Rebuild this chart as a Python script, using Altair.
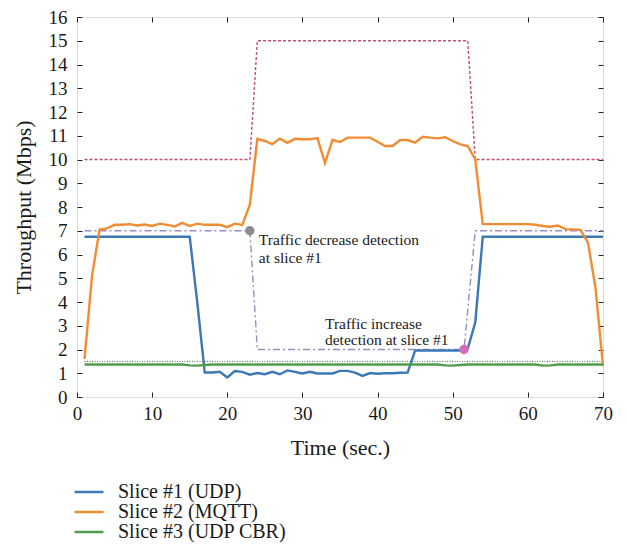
import altair as alt
import pandas as pd

# ---------------- data ----------------
time_s = list(range(1, 71))

slice1_udp = [6.75] * 15 + [4.0] + [
    1.03, 1.03, 1.06, 0.82, 1.09, 1.06, 0.94, 1.01, 0.96, 1.06,
    0.96, 1.12, 1.06, 0.99, 1.06, 0.99, 0.99, 0.99, 1.10, 1.10,
    1.03, 0.89, 1.01, 0.98, 1.00, 1.00, 1.02, 1.03,
] + [1.96] * 7 + [2.03, 3.14] + [6.75] * 17

slice2_mqtt = [
    1.6, 5.1, 7.05, 7.1, 7.25, 7.25, 7.28, 7.22, 7.26, 7.2,
    7.3, 7.25, 7.18, 7.33, 7.2, 7.3, 7.25, 7.25, 7.25, 7.15,
    7.3, 7.25, 8.1, 10.87, 10.78, 10.65, 10.88, 10.7, 10.87, 10.85,
    10.85, 10.9, 9.85, 10.82, 10.74, 10.92, 10.92, 10.92, 10.92, 10.75,
    10.57, 10.57, 10.82, 10.82, 10.71, 10.96, 10.92, 10.89, 10.94, 10.78,
    10.64, 10.57, 10.0, 7.28, 7.28, 7.28, 7.28, 7.28, 7.28, 7.28,
    7.25, 7.2, 7.17, 7.22, 7.07, 7.06, 7.04, 6.5, 4.6, 1.3,
]

slice3_cbr = [1.37] * 14 + [1.33, 1.32, 1.35] + [1.37] * 31 + [1.33, 1.32, 1.35] + [1.37] * 10 + [1.32, 1.33] + [1.37] * 7

series_names = ["Slice #1 (UDP)", "Slice #2 (MQTT)", "Slice #3 (UDP CBR)"]
series_colors = ["#3b78b4", "#f28c33", "#4f9c4a"]

cap_t = [1, 23, 24, 52, 53, 70]
cap_v = [10, 10, 15, 15, 10, 10]
thr_t = [1, 23, 24, 51.5, 53, 70]
thr_v = [7, 7, 2, 2, 7, 7]
cbr_t = [1, 70]
cbr_v = [1.5, 1.5]

event_t = [23, 51.5]
event_v = [7, 2]
event_name = ["decrease", "increase"]
event_colors = ["#8c8c8c", "#d46cb8"]

annot_text = ["Traffic decrease detection", "at slice #1", "Traffic increase", "detection at slice #1"]
annot_t = [24.2, 24.2, 33.0, 33.0]
annot_v = [6.62, 5.85, 3.07, 2.38]

x_ticks = list(range(0, 71, 10))
y_ticks = list(range(0, 17))

# ---------------- frames ----------------
main_df = pd.DataFrame({
    "t": time_s * 3,
    "v": slice1_udp + slice2_mqtt + slice3_cbr,
    "series": [series_names[0]] * 70 + [series_names[1]] * 70 + [series_names[2]] * 70,
})
cap_df = pd.DataFrame({"t": cap_t, "v": cap_v})
thr_df = pd.DataFrame({"t": thr_t, "v": thr_v})
cbr_df = pd.DataFrame({"t": cbr_t, "v": cbr_v})
ev_df = pd.DataFrame({"t": event_t, "v": event_v, "e": event_name})
txt_df = pd.DataFrame({"t": annot_t, "v": annot_v, "label": annot_text})

FONT = "Liberation Serif"
TXT = "#1a1a1a"

x_scale = alt.Scale(domain=[0, 70], nice=False, zero=False)
y_scale = alt.Scale(domain=[0, 16], nice=False)

ax_bottom = alt.Axis(
    orient="bottom", values=x_ticks, offset=-5, tickSize=5, domain=False, grid=False,
    labelFlush=False, labelOverlap=False, labelFont=FONT, labelFontSize=19,
    labelColor=TXT, labelPadding=7, tickColor="#222",
    title="Time (sec.)", titleFont=FONT, titleFontSize=22, titleFontWeight="normal",
    titleColor=TXT, titlePadding=14,
)
ax_left = alt.Axis(
    orient="left", values=y_ticks, offset=-5, tickSize=5, domain=False, grid=False,
    labelFlush=False, labelOverlap=False, labelFont=FONT, labelFontSize=19,
    labelColor=TXT, labelPadding=10, tickColor="#222",
    title="Throughput (Mbps)", titleFont=FONT, titleFontSize=22, titleFontWeight="normal",
    titleColor=TXT, titlePadding=13,
)
ax_top = alt.Axis(orient="top", values=x_ticks, offset=-5, tickSize=5, domain=False,
                  grid=False, labels=False, title=None, tickColor="#222")
ax_right = alt.Axis(orient="right", values=y_ticks, offset=-5, tickSize=5, domain=False,
                    grid=False, labels=False, title=None, tickColor="#222")

cap_line = alt.Chart(cap_df).mark_line(color="#c4506a", strokeWidth=1.4, strokeDash=[3, 2]).encode(
    x=alt.X("t:Q", scale=x_scale, axis=None), y=alt.Y("v:Q", scale=y_scale, axis=None))
thr_line = alt.Chart(thr_df).mark_line(color="#9a8cc4", strokeWidth=1.4, strokeDash=[7, 3, 2, 3]).encode(
    x=alt.X("t:Q", scale=x_scale, axis=None), y=alt.Y("v:Q", scale=y_scale, axis=None))
cbr_line = alt.Chart(cbr_df).mark_line(color="#3d6b3d", strokeWidth=1, strokeDash=[1, 1.5]).encode(
    x=alt.X("t:Q", scale=x_scale, axis=ax_top), y=alt.Y("v:Q", scale=y_scale, axis=ax_right))

main_lines = alt.Chart(main_df).mark_line(strokeWidth=2.4).encode(
    x=alt.X("t:Q", scale=x_scale, axis=ax_bottom),
    y=alt.Y("v:Q", scale=y_scale, axis=ax_left),
    color=alt.Color(
        "series:N",
        scale=alt.Scale(domain=series_names, range=series_colors),
        sort=series_names,
        legend=alt.Legend(
            orient="none", legendX=2, legendY=465, title=None,
            symbolType="M-2,0H2", symbolSize=210, symbolStrokeWidth=2.5,
            labelFont=FONT, labelFontSize=20, labelColor=TXT, labelOffset=19,
            labelLimit=400, rowPadding=0, padding=0,
        ),
    ),
    detail="series:N",
)

dots = alt.Chart(ev_df).mark_circle(size=90, opacity=1).encode(
    x=alt.X("t:Q", scale=x_scale, axis=None), y=alt.Y("v:Q", scale=y_scale, axis=None),
    color=alt.Color("e:N", scale=alt.Scale(domain=event_name, range=event_colors), legend=None),
)

texts = alt.Chart(txt_df).mark_text(align="left", baseline="middle", font=FONT, fontSize=15.5, color=TXT).encode(
    x=alt.X("t:Q", scale=x_scale, axis=None), y=alt.Y("v:Q", scale=y_scale, axis=None),
    text="label:N",
)

chart = alt.layer(cap_line, thr_line, cbr_line, main_lines, dots, texts).resolve_axis(
    x="independent", y="independent"
).resolve_scale(color="independent").properties(
    width=526, height=380,
    autosize=alt.AutoSizeParams(type="none"),
    padding={"left": 69, "top": 9, "right": 16, "bottom": 147},
).configure_view(stroke="#222", strokeWidth=1).configure(background="white")

chart.save("out.html", embed_options={"renderer": "svg", "actions": False})
